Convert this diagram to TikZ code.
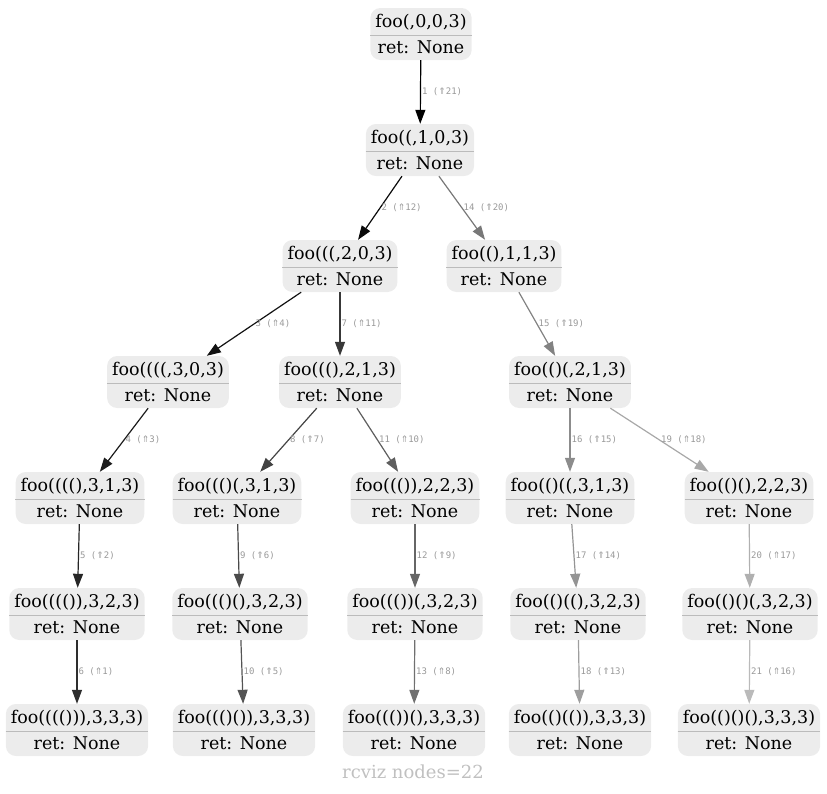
\documentclass[tikz,border=0pt]{standalone}
\usepackage{fontspec}
\setmainfont{DejaVu Serif}
\newfontfamily\lblfont{DejaVu Sans Mono}
\newfontfamily\arrfont{DejaVu Sans}
\usetikzlibrary{arrows.meta}
\definecolor{boxfill}{HTML}{ECECEC}
\definecolor{sepc}{HTML}{BBBBBB}
\definecolor{lblc}{HTML}{999999}
\definecolor{footc}{HTML}{C0C0C0}
\tikzset{
 fnode/.style={fill=boxfill, rounded corners=10pt, minimum height=52pt, inner xsep=5pt, inner ysep=0pt, align=center, font=\fontsize{17.5}{26}\selectfont},
 sepline/.style={draw=sepc, line width=1pt},
 edgeline/.style={line width=1.2pt, draw=black!#1, -{Triangle[length=14pt,width=10pt]}},
 elabel/.style={font=\lblfont\fontsize{9}{10}\selectfont, text=lblc, anchor=west, inner sep=1pt, pos=0.5}
}
\newcommand{\upa}{{\arrfont ⇑}}
\begin{document}
\begin{tikzpicture}[x=1pt,y=-1pt]
\useasboundingbox (0,0) rectangle (827,793);
\node[fnode] (n0) at (421,34) {foo(,0,0,3)\\ret: None};
\node[fnode] (n1) at (420,150) {foo((,1,0,3)\\ret: None};
\node[fnode] (n2) at (340,266) {foo(((,2,0,3)\\ret: None};
\node[fnode] (n3) at (504,266) {foo((),1,1,3)\\ret: None};
\node[fnode] (n4) at (168,382) {foo((((,3,0,3)\\ret: None};
\node[fnode] (n5) at (340,382) {foo(((),2,1,3)\\ret: None};
\node[fnode] (n6) at (570,382) {foo(()(,2,1,3)\\ret: None};
\node[fnode] (n7) at (80,498) {foo((((),3,1,3)\\ret: None};
\node[fnode] (n8) at (237,498) {foo((()(,3,1,3)\\ret: None};
\node[fnode] (n9) at (415,498) {foo((()),2,2,3)\\ret: None};
\node[fnode] (n10) at (570,498) {foo(()((,3,1,3)\\ret: None};
\node[fnode] (n11) at (749,498) {foo(()(),2,2,3)\\ret: None};
\node[fnode] (n12) at (77,614) {foo(((()),3,2,3)\\ret: None};
\node[fnode] (n13) at (240,614) {foo((()(),3,2,3)\\ret: None};
\node[fnode] (n14) at (415,614) {foo((())(,3,2,3)\\ret: None};
\node[fnode] (n15) at (578,614) {foo(()((),3,2,3)\\ret: None};
\node[fnode] (n16) at (750,614) {foo(()()(,3,2,3)\\ret: None};
\node[fnode] (n17) at (77,730) {foo(((())),3,3,3)\\ret: None};
\node[fnode] (n18) at (244,730) {foo((()()),3,3,3)\\ret: None};
\node[fnode] (n19) at (414,730) {foo((())(),3,3,3)\\ret: None};
\node[fnode] (n20) at (580,730) {foo(()(()),3,3,3)\\ret: None};
\node[fnode] (n21) at (749,730) {foo(()()(),3,3,3)\\ret: None};
\foreach \n in {0,...,21} \draw[sepline] ([yshift=-1pt]n\n.west) -- ([yshift=-1pt]n\n.east);
\draw[edgeline=100] (n0) -- node[elabel]{1 (\upa21)} (n1);
\draw[edgeline=96] (n1) -- node[elabel]{2 (\upa12)} (n2);
\draw[edgeline=93] (n2) -- node[elabel]{3 (\upa4)} (n4);
\draw[edgeline=89] (n4) -- node[elabel]{4 (\upa3)} (n7);
\draw[edgeline=85] (n7) -- node[elabel]{5 (\upa2)} (n12);
\draw[edgeline=82] (n12) -- node[elabel]{6 (\upa1)} (n17);
\draw[edgeline=78] (n2) -- node[elabel]{7 (\upa11)} (n5);
\draw[edgeline=74] (n5) -- node[elabel]{8 (\upa7)} (n8);
\draw[edgeline=71] (n8) -- node[elabel]{9 (\upa6)} (n13);
\draw[edgeline=67] (n13) -- node[elabel]{10 (\upa5)} (n18);
\draw[edgeline=63] (n5) -- node[elabel]{11 (\upa10)} (n9);
\draw[edgeline=60] (n9) -- node[elabel]{12 (\upa9)} (n14);
\draw[edgeline=56] (n14) -- node[elabel]{13 (\upa8)} (n19);
\draw[edgeline=53] (n1) -- node[elabel]{14 (\upa20)} (n3);
\draw[edgeline=49] (n3) -- node[elabel]{15 (\upa19)} (n6);
\draw[edgeline=45] (n6) -- node[elabel]{16 (\upa15)} (n10);
\draw[edgeline=42] (n10) -- node[elabel]{17 (\upa14)} (n15);
\draw[edgeline=38] (n15) -- node[elabel]{18 (\upa13)} (n20);
\draw[edgeline=34] (n6) -- node[elabel]{19 (\upa18)} (n11);
\draw[edgeline=31] (n11) -- node[elabel]{20 (\upa17)} (n16);
\draw[edgeline=27] (n16) -- node[elabel]{21 (\upa16)} (n21);
\node[font=\fontsize{18}{20}\selectfont, text=footc] (foot) at (413,772) {rcviz nodes=22};
\end{tikzpicture}
\end{document}
